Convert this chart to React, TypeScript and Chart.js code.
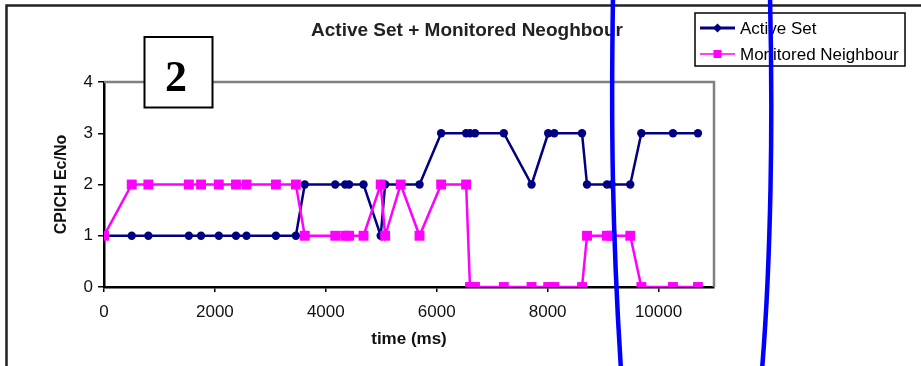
import React, { useEffect, useRef } from "react";
import { Chart, registerables } from "chart.js";

Chart.register(...registerables);

const chartTitle = "Active Set + Monitored Neoghbour";
const xAxisTitle = "time (ms)";
const yAxisTitle = "CPICH Ec/No";
const seriesNames = ["Active Set", "Monitored Neighbour"];
const panelLabel = "2";

const times = [
  0, 500, 800, 1530, 1750, 2070, 2380, 2570, 3100, 3460,
  3620, 4170, 4350, 4420, 4680,
  4990, 5070, 5350, 5690,
  6080, 6530, 6600, 6690, 7210,
  7710, 8010, 8120, 8620,
  8710, 9070, 9150, 9490,
  9690, 10260, 10710,
];
const activeSet = [
  1, 1, 1, 1, 1, 1, 1, 1, 1, 1,
  2, 2, 2, 2, 2,
  1, 2, 2, 2,
  3, 3, 3, 3, 3,
  2, 3, 3, 3,
  2, 2, 2, 2,
  3, 3, 3,
];
const monitored = [
  1, 2, 2, 2, 2, 2, 2, 2, 2, 2,
  1, 1, 1, 1, 1,
  2, 1, 2, 1,
  2, 2, 0, 0, 0,
  0, 0, 0, 0,
  1, 1, 1, 1,
  0, 0, 0,
];
const xTicks = [0, 2000, 4000, 6000, 8000, 10000];
const yTicks = [0, 1, 2, 3, 4];
const xMin = 0;
const xMax = 11000;
const yMin = 0;
const yMax = 4;

const NAVY = "#000080";
const MAGENTA = "#ff00ff";
const FONT = "'Liberation Sans', Arial, sans-serif";

const decorPlugin = {
  id: "decor",
  beforeDatasetsDraw(chart: any) {
    const { ctx, chartArea: a } = chart;
    ctx.save();
    ctx.strokeStyle = "#808080";
    ctx.lineWidth = 2.5;
    ctx.beginPath();
    ctx.moveTo(a.left, a.top);
    ctx.lineTo(a.right, a.top);
    ctx.lineTo(a.right, a.bottom);
    ctx.stroke();
    ctx.restore();
  },
  afterDraw(chart: any) {
    const { ctx } = chart;
    ctx.save();
    // outer frame (left and top)
    ctx.strokeStyle = "#222";
    ctx.lineWidth = 2.5;
    ctx.beginPath();
    ctx.moveTo(6.5, 370);
    ctx.lineTo(6.5, 5.5);
    ctx.lineTo(925, 5.5);
    ctx.stroke();

    // title
    ctx.fillStyle = "#222";
    ctx.font = `bold 19px ${FONT}`;
    ctx.textAlign = "center";
    ctx.textBaseline = "middle";
    ctx.fillText(chartTitle, 467, 31);

    // legend
    ctx.fillStyle = "#fff";
    ctx.fillRect(695, 13, 210, 53);
    ctx.strokeStyle = "#000";
    ctx.lineWidth = 1.5;
    ctx.strokeRect(695, 13, 210, 53);
    ctx.textAlign = "left";
    ctx.font = `17px ${FONT}`;
    // row 1
    ctx.strokeStyle = NAVY;
    ctx.lineWidth = 3;
    ctx.beginPath();
    ctx.moveTo(700, 28);
    ctx.lineTo(735, 28);
    ctx.stroke();
    ctx.fillStyle = NAVY;
    ctx.beginPath();
    ctx.moveTo(717.5, 23.5);
    ctx.lineTo(722, 28);
    ctx.lineTo(717.5, 32.5);
    ctx.lineTo(713, 28);
    ctx.closePath();
    ctx.fill();
    ctx.fillStyle = "#000";
    ctx.fillText(seriesNames[0], 740, 29);
    // row 2
    ctx.strokeStyle = MAGENTA;
    ctx.lineWidth = 1.5;
    ctx.beginPath();
    ctx.moveTo(700, 54);
    ctx.lineTo(735, 54);
    ctx.stroke();
    ctx.fillStyle = MAGENTA;
    ctx.fillRect(713.5, 50, 8, 8);
    ctx.fillStyle = "#000";
    ctx.fillText(seriesNames[1], 740, 55);

    // panel label box
    ctx.fillStyle = "#fff";
    ctx.fillRect(144.5, 37, 68, 70.5);
    ctx.strokeStyle = "#000";
    ctx.lineWidth = 2;
    ctx.strokeRect(144.5, 37, 68, 70.5);
    ctx.fillStyle = "#000";
    ctx.font = `bold 44px 'Liberation Serif', 'Times New Roman', serif`;
    ctx.textAlign = "center";
    ctx.textBaseline = "alphabetic";
    ctx.fillText(panelLabel, 176, 91);

    // hand-drawn blue ellipse strokes
    ctx.strokeStyle = "#0000ff";
    ctx.lineWidth = 4.5;
    ctx.lineCap = "round";
    ctx.beginPath();
    ctx.moveTo(613, -3);
    ctx.bezierCurveTo(611, 120, 612, 230, 621, 370);
    ctx.stroke();
    ctx.beginPath();
    ctx.moveTo(770, -3);
    ctx.bezierCurveTo(773, 120, 771, 260, 762, 370);
    ctx.stroke();
    ctx.restore();
  },
};

export default function App() {
  const canvasRef = useRef<HTMLCanvasElement | null>(null);

  useEffect(() => {
    const canvas = canvasRef.current;
    if (!canvas) return;
    Chart.defaults.font.family = FONT;
    const chart = new Chart(canvas, {
      type: "line",
      data: {
        datasets: [
          {
            label: seriesNames[0],
            data: times.map((t, i) => ({ x: t, y: activeSet[i] })),
            borderColor: NAVY,
            backgroundColor: NAVY,
            borderWidth: 2.5,
            pointStyle: "circle",
            pointRadius: 4.2,
            pointBorderWidth: 0,
            pointBackgroundColor: NAVY,
            tension: 0,
            order: 1,
          },
          {
            label: seriesNames[1],
            data: times.map((t, i) => ({ x: t, y: monitored[i] })),
            borderColor: MAGENTA,
            backgroundColor: MAGENTA,
            borderWidth: 2.5,
            pointStyle: "rect",
            pointRadius: 7,
            pointBorderWidth: 0,
            pointBackgroundColor: MAGENTA,
            tension: 0,
            order: 0,
          },
        ],
      },
      options: {
        animation: false,
        responsive: false,
        maintainAspectRatio: false,
        layout: { padding: { left: 0, top: 82, right: 207, bottom: 0 } },
        plugins: {
          legend: { display: false },
          title: { display: false },
          tooltip: { enabled: false },
        },
        scales: {
          x: {
            type: "linear",
            min: xMin,
            max: xMax,
            afterFit: (s: any) => {
              s.height = 79;
            },
            afterBuildTicks: (s: any) => {
              s.ticks = xTicks.map((v) => ({ value: v }));
            },
            ticks: {
              autoSkip: false,
              color: "#111",
              font: { size: 17 },
              padding: 10,
              maxRotation: 0,
              callback: (v: any) => String(v),
            },
            grid: {
              drawOnChartArea: false,
              drawTicks: true,
              tickLength: 5,
              color: "#000",
              lineWidth: 1.5,
            },
            border: { display: true, color: "#000", width: 2.5 },
            title: {
              display: true,
              text: xAxisTitle,
              color: "#111",
              font: { size: 17, weight: "bold" },
              padding: { top: 0, bottom: 16 },
            },
          },
          y: {
            min: yMin,
            max: yMax,
            afterFit: (s: any) => {
              s.width = 104;
            },
            afterBuildTicks: (s: any) => {
              s.ticks = yTicks.map((v) => ({ value: v }));
            },
            ticks: {
              autoSkip: false,
              color: "#111",
              font: { size: 17 },
              padding: 5,
              callback: (v: any) => String(v),
            },
            grid: {
              drawOnChartArea: false,
              drawTicks: true,
              tickLength: 6,
              color: "#000",
              lineWidth: 1.5,
            },
            border: { display: true, color: "#000", width: 2.5 },
            title: {
              display: true,
              text: yAxisTitle,
              color: "#111",
              font: { size: 16, weight: "bold" },
              padding: { top: 52, bottom: 0 },
            },
          },
        },
      },
      plugins: [decorPlugin],
    });
    return () => chart.destroy();
  }, []);

  return (
    <div
      style={{
        position: "fixed",
        left: 0,
        top: 0,
        width: 921,
        height: 366,
        background: "#fff",
        overflow: "hidden",
      }}
    >
      <canvas ref={canvasRef} width={921} height={366} style={{ display: "block" }} />
    </div>
  );
}
